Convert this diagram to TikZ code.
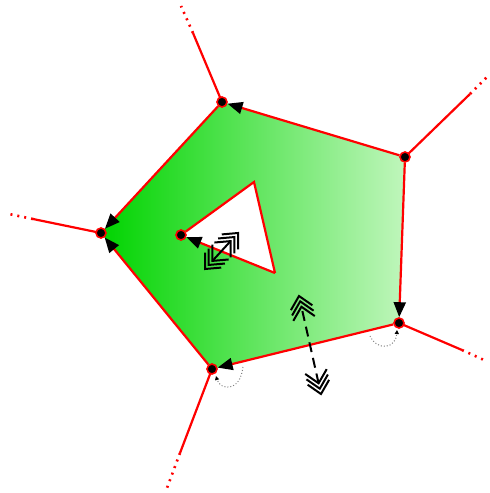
\documentclass[tikz,border=0pt]{standalone}
\usetikzlibrary{arrows.meta,calc}
\definecolor{gleft}{RGB}{0,212,0}
\definecolor{gright}{RGB}{192,246,188}
\tikzset{
  vdot/.style={circle, fill=black, draw=red, line width=1.6pt, inner sep=0pt, minimum size=10pt},
  edge/.style={red, line width=2.2pt},
  dir/.style={edge, -{Triangle[length=15pt,width=12pt,color=black]}},
  ray/.style={red, line width=2.2pt},
  rayend/.style={red, line width=2.6pt, dash pattern=on 2pt off 5pt},
  angmark/.style={gray, line width=1pt, dotted, -{Triangle[length=4pt,width=4pt,color=black]}},
  chevline/.style={black, solid, line width=2pt},
  shaft/.style={black, line width=2pt, shorten <=11pt, shorten >=11pt}
}
\newcommand\drawchevs[2]{%
  \foreach \dd in {0,5.5,11}{%
    \coordinate (tmpT) at ($(#1)!\dd pt!(#2)$);
    \coordinate (tmpB) at ($(#1)!\dd pt+12pt!(#2)$);
    \draw[chevline] ($(tmpB)!11pt!90:(#2)$) -- (tmpT) -- ($(tmpB)!11pt!-90:(#2)$);
  }}
\begin{document}
\begin{tikzpicture}[x=1pt,y=-1pt]
\useasboundingbox (0,0) rectangle (490,493);
% coordinates
\coordinate (pA) at (222,102);
\coordinate (pB) at (405,157);
\coordinate (pC) at (399,323);
\coordinate (pD) at (212,369);
\coordinate (pE) at (101,233);
\coordinate (pF) at (181,235);
\coordinate (G) at (254,182);
\coordinate (H) at (275,273);
% shaded region with hole
\shade[left color=gleft, right color=gright, even odd rule]
  (pA) -- (pB) -- (pC) -- (pD) -- (pE) -- cycle
  (pF) -- (G) -- (H) -- cycle;
% rays
\coordinate (A1) at (193,33);  \coordinate (A2) at (181,6);
\coordinate (B1) at (470,94);  \coordinate (B2) at (487,77);
\coordinate (C1) at (462,350); \coordinate (C2) at (484,360);
\coordinate (D1) at (180,453); \coordinate (D2) at (167,488);
\coordinate (E1) at (33,219);  \coordinate (E2) at (9,214);
\draw[ray] (pA) -- (A1); \draw[rayend] (A1) -- (A2);
\draw[ray] (pB) -- (B1); \draw[rayend] (B1) -- (B2);
\draw[ray] (pC) -- (C1); \draw[rayend] (C1) -- (C2);
\draw[ray] (pD) -- (D1); \draw[rayend] (D1) -- (D2);
\draw[ray] (pE) -- (E1); \draw[rayend] (E1) -- (E2);
% vertex dots
\node[vdot] (A) at (pA) {};
\node[vdot] (B) at (pB) {};
\node[vdot] (C) at (pC) {};
\node[vdot] (D) at (pD) {};
\node[vdot] (E) at (pE) {};
\node[vdot] (F) at (pF) {};
% boundary edges
\draw[dir] (B) -- (A);
\draw[dir] (A) -- (E);
\draw[dir] (D) -- (E);
\draw[dir] (B) -- (C);
\draw[dir] (C) -- (D);
\draw[edge] (F) -- (G) -- (H);
\draw[dir] (H) -- (F);
% angle marks
\coordinate (c1) at (370,336); \coordinate (c2) at (397,330);
\draw[angmark] (c1) .. controls (378,352) and (396,348) .. (c2);
\coordinate (d1) at (243,367); \coordinate (d2) at (216,376);
\draw[angmark] (d1) .. controls (240,393) and (220,390) .. (d2);
% twin arrows
\coordinate (t1) at (205,269); \coordinate (t2) at (238,233);
\draw[shaft] (t1) -- (t2);
\drawchevs{t1}{t2}
\drawchevs{t2}{t1}
\coordinate (s1) at (299,296); \coordinate (s2) at (321,394);
\draw[shaft, dash pattern=on 10pt off 6pt] (s2) -- (s1);
\drawchevs{s1}{s2}
\drawchevs{s2}{s1}
\end{tikzpicture}
\end{document}
